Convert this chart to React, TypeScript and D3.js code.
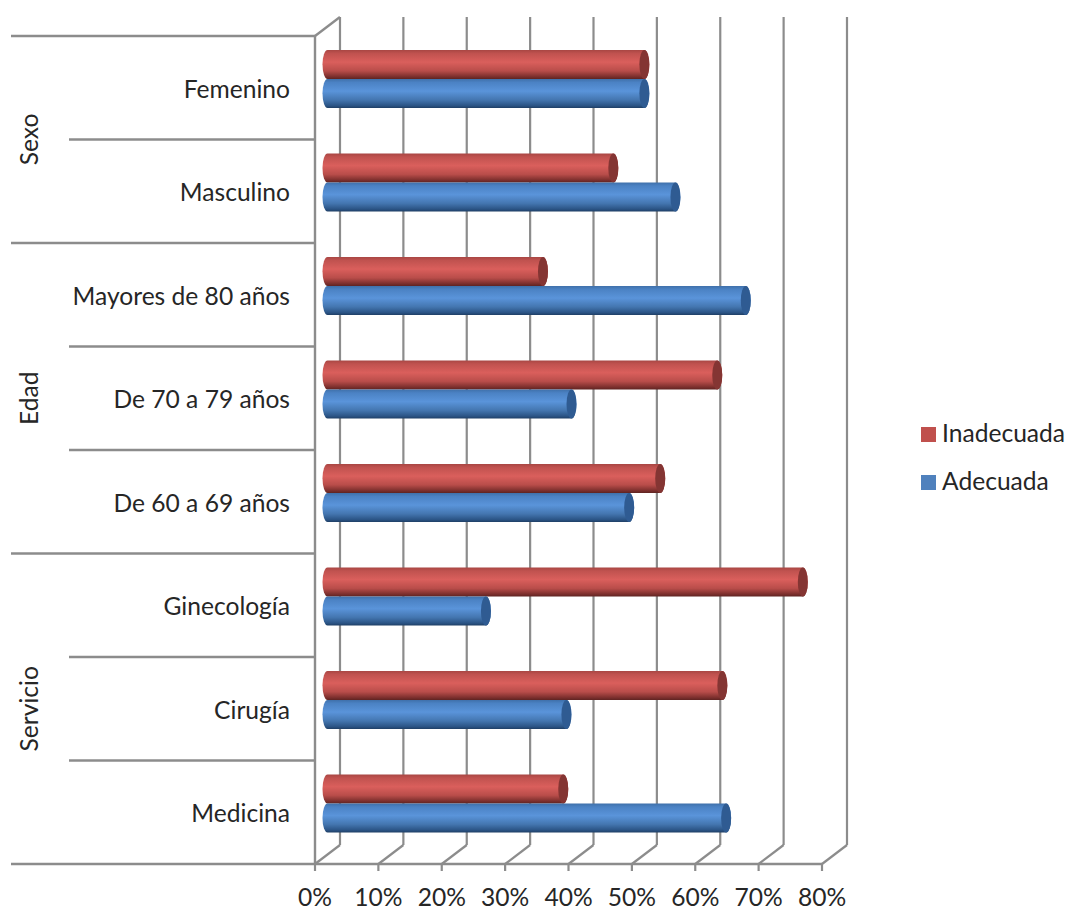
import React from "react";
import * as d3 from "d3";

const categories = ["Femenino", "Masculino", "Mayores de 80 años", "De 70 a 79 años", "De 60 a 69 años", "Ginecología", "Cirugía", "Medicina"];
const inadecuada = [50, 45.1, 34, 61.5, 52.5, 75, 62.3, 37.2];
const adecuada = [50, 54.9, 66, 38.5, 47.6, 25, 37.7, 62.9];
const xTicks = [0, 10, 20, 30, 40, 50, 60, 70, 80];
const groups = [
  { name: "Sexo", first: 0, count: 2 },
  { name: "Edad", first: 2, count: 3 },
  { name: "Servicio", first: 5, count: 3 },
];
const legendItems = [
  { name: "Inadecuada", color: "#c0504d" },
  { name: "Adecuada", color: "#4f81bd" },
];

const GRID = "#8c8c8c";
const INK = "#262626";
const FONT = "Lato, 'Open Sans', sans-serif";

// Oblique projection: depth shifts the back wall right and up.
const depthX = 25;
const depthY = -19;
const x = d3.scaleLinear().domain([0, 80]).range([315, 822]);
const y = d3.scaleBand<number>().domain(d3.range(categories.length)).range([36, 864]);
const barX = (v: number) => x(v) + depthX / 2;
const barH = 29;
const capRx = 5;

function Cylinder({ value, top, fill, cap }: { value: number; top: number; fill: string; cap: string }) {
  const x0 = barX(0);
  const x1 = barX(value);
  const ry = barH / 2;
  const bottom = top + barH;
  const outline =
    `M${x0},${top} L${x1},${top} A${capRx},${ry} 0 0 1 ${x1},${bottom} ` +
    `L${x0},${bottom} A${capRx},${ry} 0 0 1 ${x0},${top} Z`;
  return (
    <g>
      <path d={outline} fill={`url(#${fill})`} />
      <ellipse cx={x1} cy={top + ry} rx={capRx} ry={ry} fill={cap} />
    </g>
  );
}

function Shade({ id, stops }: { id: string; stops: [number, string][] }) {
  return (
    <linearGradient id={id} x1="0" y1="0" x2="0" y2="1">
      {stops.map(([o, c]) => (
        <stop key={o} offset={o} stopColor={c} />
      ))}
    </linearGradient>
  );
}

export default function App() {
  const frontY = (i: number) => y(i) as number;
  const band = y.bandwidth();
  const bottom = y.range()[1];
  const top = y.range()[0];
  return (
    <svg width={1069} height={911} style={{ position: "absolute", left: 0, top: 0, background: "#fff" }} fontFamily={FONT}>
      <defs>
        <Shade id="redBar" stops={[[0, "#a84643"], [0.12, "#c0524f"], [0.42, "#da5f5c"], [0.72, "#b94d4a"], [0.92, "#7c2f2d"], [1, "#5f2422"]]} />
        <Shade id="blueBar" stops={[[0, "#3f70aa"], [0.12, "#4b82c4"], [0.42, "#5a94da"], [0.72, "#4476b0"], [0.92, "#2b5485"], [1, "#1f3f66"]]} />
      </defs>

      {/* back wall gridlines and floor diagonals */}
      {xTicks.map((t) => (
        <g key={t} stroke={GRID} strokeWidth={2.2} fill="none">
          <line x1={x(t) + depthX} x2={x(t) + depthX} y1={top + depthY} y2={bottom + depthY} />
          <line x1={x(t)} y1={bottom} x2={x(t) + depthX} y2={bottom + depthY} />
          <line x1={x(t)} x2={x(t)} y1={bottom} y2={bottom + 7} />
        </g>
      ))}

      {/* front axes and category separators */}
      <g stroke={GRID} strokeWidth={2.4} fill="none">
        <line x1={x(0)} x2={x(0)} y1={top} y2={bottom} />
        <line x1={x(0)} y1={top} x2={x(0) + depthX} y2={top + depthY} />
        <line x1={11} x2={x(80)} y1={bottom} y2={bottom} />
        {categories.map((_, i) => {
          const isGroupStart = groups.some((g) => g.first === i);
          return <line key={i} x1={isGroupStart ? 11 : 69} x2={x(0)} y1={frontY(i)} y2={frontY(i)} />;
        })}
      </g>

      {/* cylinders, positioned halfway into the depth */}
      {categories.map((_, i) => {
        const mid = frontY(i) + band / 2 + depthY / 2 + 0.7;
        return (
          <g key={i}>
            <Cylinder value={inadecuada[i]} top={mid - barH} fill="redBar" cap="#843533" />
            <Cylinder value={adecuada[i]} top={mid} fill="blueBar" cap="#2f5b92" />
          </g>
        );
      })}

      {/* labels */}
      <g fill={INK} fontSize={24.6}>
        {categories.map((c, i) => (
          <text key={c} x={290} y={frontY(i) + band / 2 + 4} textAnchor="end" dominantBaseline="middle">
            {c}
          </text>
        ))}
        {groups.map((g) => {
          const cy = frontY(g.first) + (band * g.count) / 2;
          return (
            <text key={g.name} transform={`translate(32,${cy}) rotate(-90)`} textAnchor="middle" dominantBaseline="middle">
              {g.name}
            </text>
          );
        })}
        {xTicks.map((t) => (
          <text key={t} x={x(t)} y={900} textAnchor="middle" dominantBaseline="middle">
            {t}%
          </text>
        ))}
        {legendItems.map((item, i) => {
          const ly = 434.5 + i * 48;
          return (
            <g key={item.name}>
              <rect x={921} y={ly - 7.5} width={15} height={15} fill={item.color} />
              <text x={942} y={ly + 1} dominantBaseline="middle">
                {item.name}
              </text>
            </g>
          );
        })}
      </g>
    </svg>
  );
}
